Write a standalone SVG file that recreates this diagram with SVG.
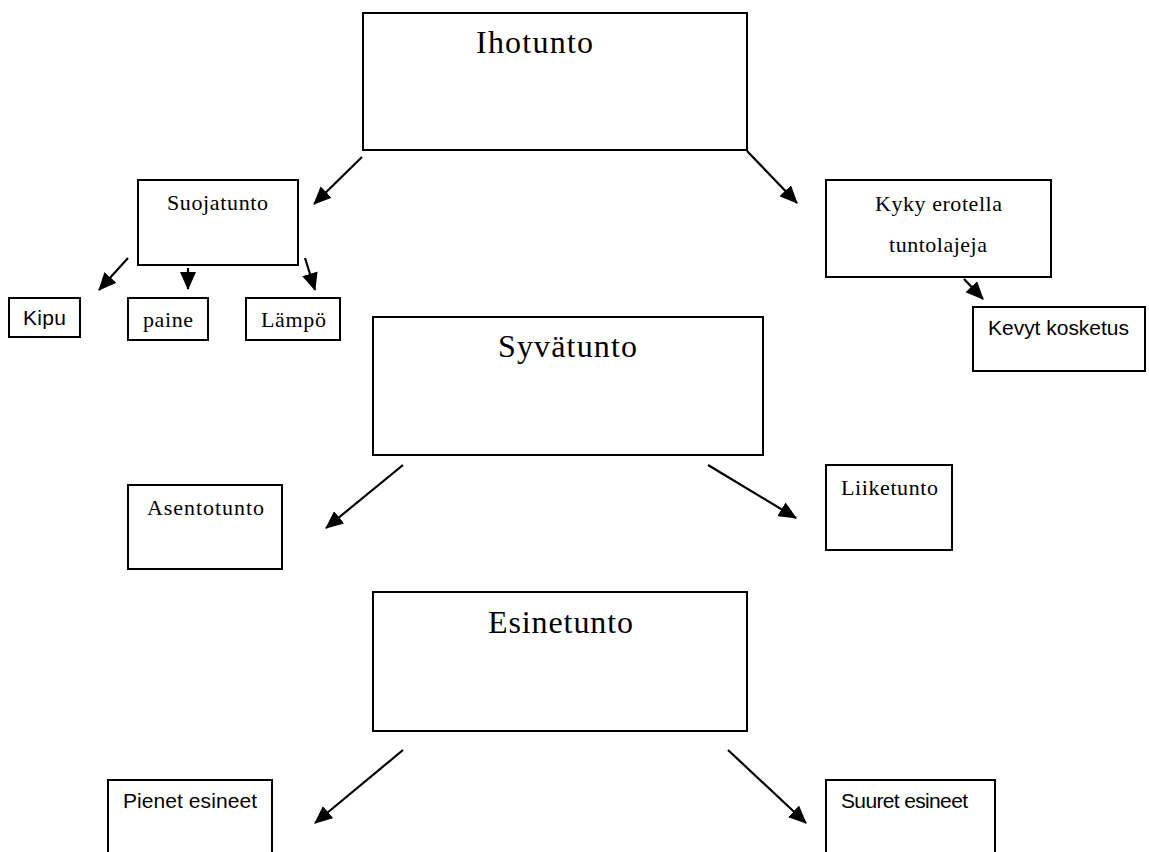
<svg xmlns="http://www.w3.org/2000/svg" width="1149" height="852" viewBox="0 0 1149 852">
<style>
.box{fill:#fff;stroke:#000;stroke-width:2}
.serif{font-family:"Liberation Serif","Times New Roman",serif;fill:#000}
.sans{font-family:"Liberation Sans",Arial,sans-serif;fill:#000}
.big{font-size:32px}
.small{font-size:22px}
.sm{font-size:21px}
.conn line{stroke:#000;stroke-width:2.2;marker-end:url(#ah)}
</style>
<defs>
<marker id="ah" markerUnits="userSpaceOnUse" markerWidth="18" markerHeight="16" refX="17" refY="8" orient="auto" viewBox="0 0 18 16">
<path d="M0,0 L18,8 L0,16 z" fill="#000"/>
</marker>
</defs>
<rect width="1149" height="852" fill="#fff"/>
<g id="ihotunto"><rect class="box" x="363" y="13" width="384" height="137"/><text class="serif big" x="476" y="53" textLength="117">Ihotunto</text></g>
<g id="suojatunto"><rect class="box" x="138" y="180" width="160" height="85"/><text class="serif small" x="167" y="210" textLength="101">Suojatunto</text></g>
<g id="kipu"><rect class="box" x="9" y="298" width="71" height="39"/><text class="sans sm" x="23" y="325" textLength="43">Kipu</text></g>
<g id="paine"><rect class="box" x="128" y="298" width="80" height="42"/><text class="serif small" x="143" y="327" textLength="50">paine</text></g>
<g id="lampo"><rect class="box" x="246" y="298" width="94" height="42"/><text class="serif small" x="261" y="327" textLength="65">Lämpö</text></g>
<g id="kyky"><rect class="box" x="826" y="180" width="225" height="97"/><text class="serif small" x="875" y="211" textLength="127">Kyky erotella</text><text class="serif small" x="889" y="252" textLength="98">tuntolajeja</text></g>
<g id="kevyt"><rect class="box" x="973" y="307" width="172" height="64"/><text class="sans sm" x="988" y="335" textLength="141">Kevyt kosketus</text></g>
<g id="syvatunto"><rect class="box" x="373" y="317" width="390" height="138"/><text class="serif big" x="498" y="357" textLength="139">Syvätunto</text></g>
<g id="asentotunto"><rect class="box" x="128" y="485" width="154" height="84"/><text class="serif small" x="147" y="515" textLength="117">Asentotunto</text></g>
<g id="liiketunto"><rect class="box" x="826" y="465" width="126" height="85"/><text class="serif small" x="841" y="495" textLength="97">Liiketunto</text></g>
<g id="esinetunto"><rect class="box" x="373" y="592" width="374" height="139"/><text class="serif big" x="488" y="633" textLength="145">Esinetunto</text></g>
<g id="pienet"><rect class="box" x="108" y="780" width="164" height="90"/><text class="sans sm" x="123" y="808" textLength="134">Pienet esineet</text></g>
<g id="suuret"><rect class="box" x="826" y="780" width="169" height="90"/><text class="sans sm" x="841" y="808" textLength="127">Suuret esineet</text></g>
<g id="connectors" class="conn">
<line x1="362" y1="157" x2="314" y2="204"/>
<line x1="747" y1="151" x2="797" y2="203"/>
<line x1="128" y1="258" x2="99" y2="290"/>
<line x1="188" y1="268" x2="188" y2="289"/>
<line x1="305" y1="258" x2="315" y2="290"/>
<line x1="964" y1="279" x2="983" y2="299"/>
<line x1="403" y1="465" x2="326" y2="528"/>
<line x1="708" y1="465" x2="796" y2="518"/>
<line x1="403" y1="750" x2="315" y2="823"/>
<line x1="728" y1="750" x2="806" y2="823"/>
</g>
</svg>
